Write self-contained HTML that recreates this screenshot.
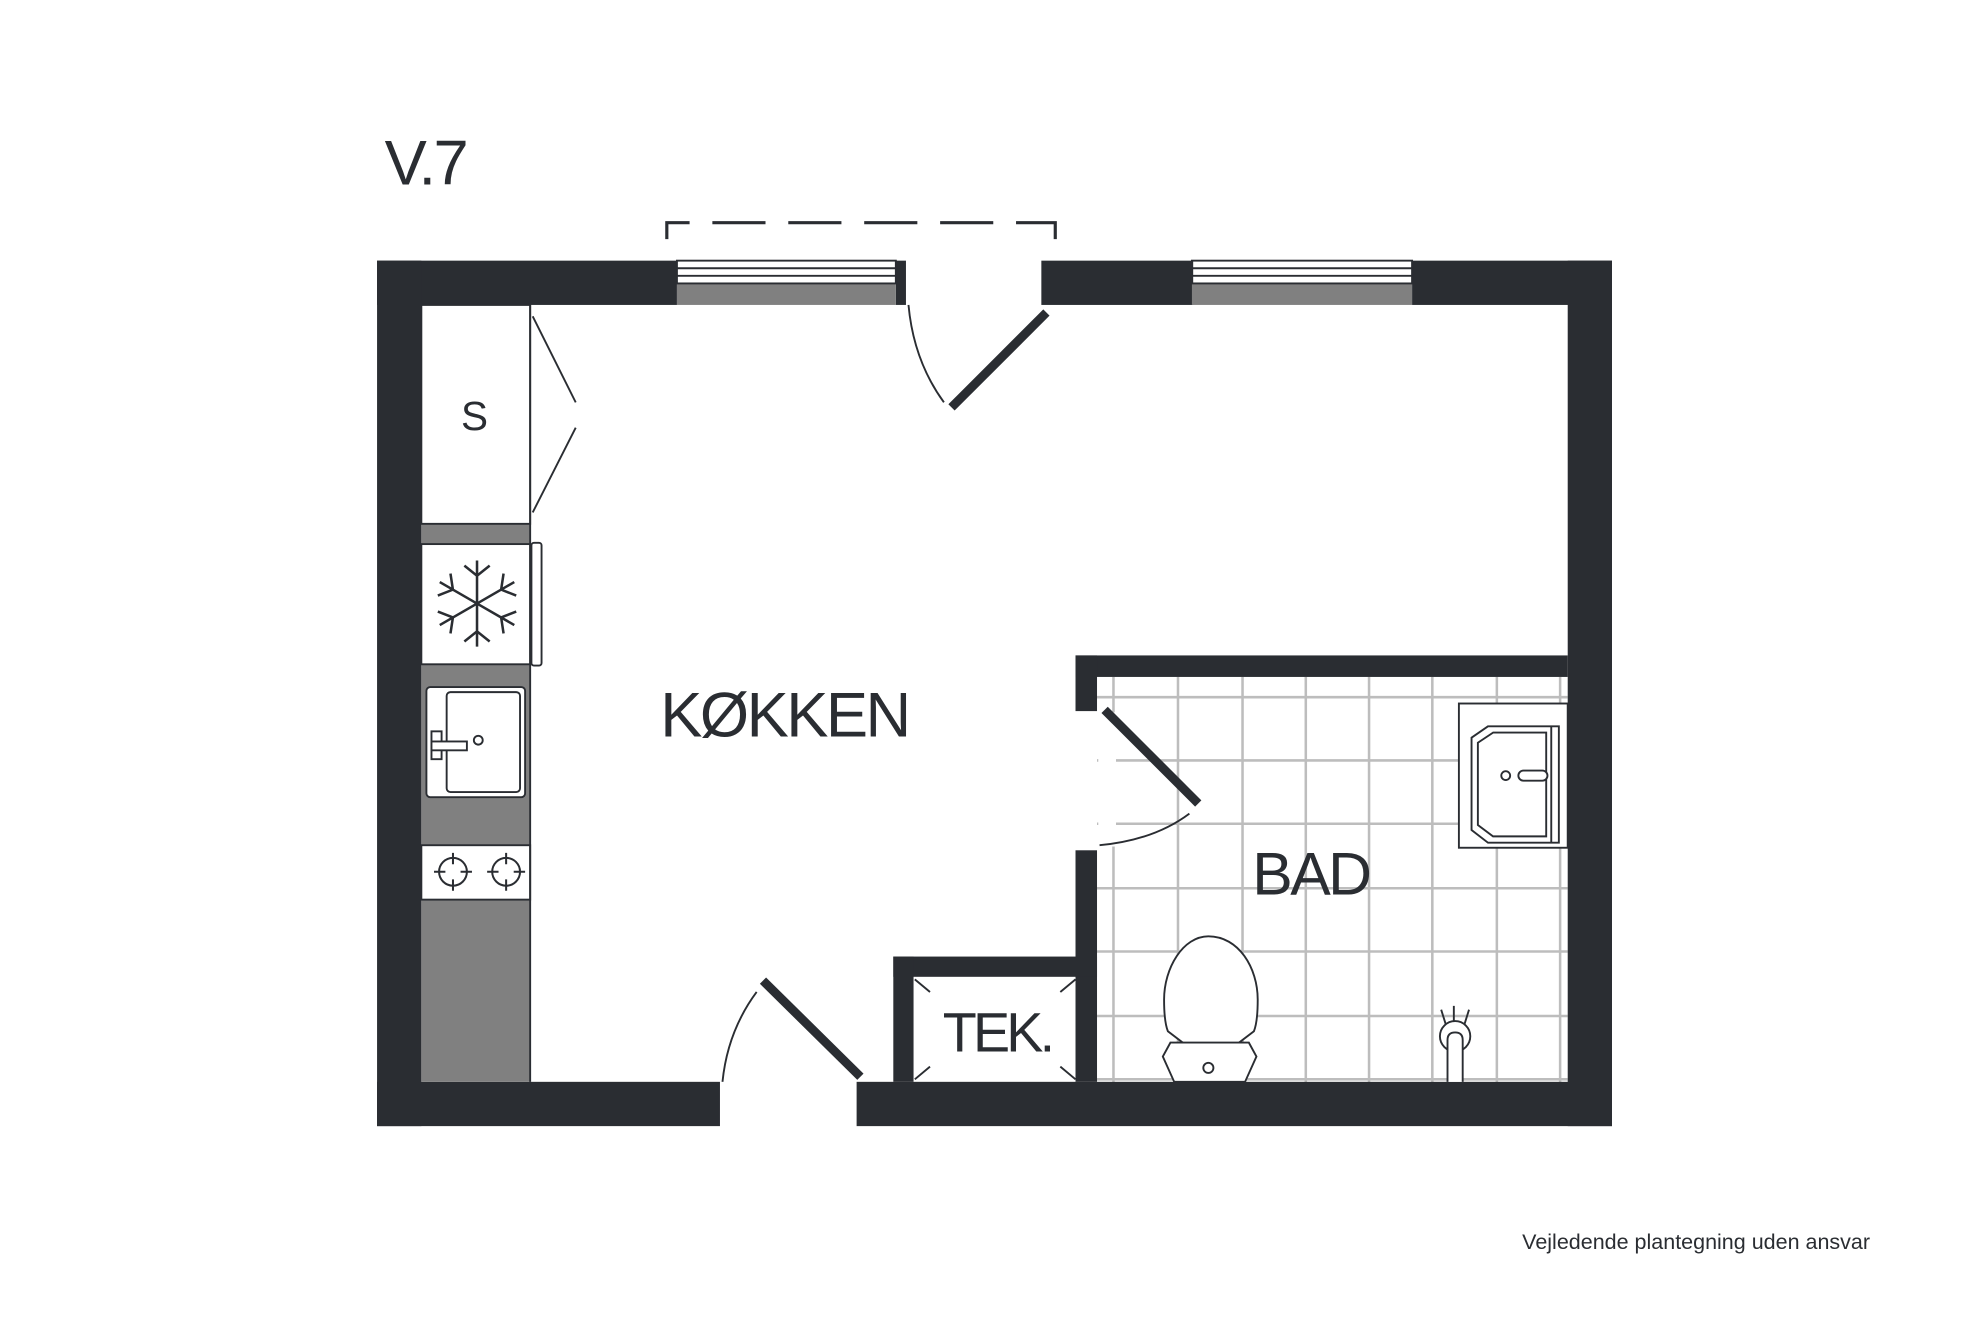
<!DOCTYPE html>
<html><head><meta charset="utf-8"><style>
html,body{margin:0;padding:0;background:#fff;}
svg{display:block;}
text{font-family:"Liberation Sans","DejaVu Sans",sans-serif;fill:#2a2d32;}
</style></head><body>
<svg width="1984" height="1323" viewBox="0 0 1568 1045.6" xmlns="http://www.w3.org/2000/svg">
<rect width="1568" height="1046" fill="#fff"/>
<text x="304" y="146" font-size="50" letter-spacing="-2">V.7</text>
<g stroke="#2a2d32" stroke-width="2.5" fill="none">
<path d="M527 189 V176 H545"/>
<path d="M563 176 H605 M623 176 H665 M683 176 H725 M743 176 H785 M803 176 H834 V189"/>
</g>
<g stroke="#bdbdbd" stroke-width="2">
<path d="M880 535V855 M931 535V855 M982 535V855 M1032 535V855 M1082 535V855 M1132 535V855 M1183 535V855 M1233 535V855"/>
<path d="M867 551H1239 M867 601H1239 M867 651H1239 M867 702H1239 M867 752H1239 M867 803H1239 M867 853H1239"/>
</g>
<rect x="868" y="563" width="14" height="106" fill="#fff"/>
<g fill="#2a2d32">
<rect x="298" y="206" width="237" height="35"/>
<rect x="708" y="206" width="8" height="35"/>
<rect x="823" y="206" width="120" height="35"/>
<rect x="1116" y="206" width="158" height="35"/>
<rect x="298" y="206" width="35" height="684"/>
<rect x="1239" y="206" width="35" height="684"/>
<rect x="298" y="855" width="271" height="35"/>
<rect x="677" y="855" width="597" height="35"/>
<rect x="850" y="518" width="389" height="17"/>
<rect x="850" y="518" width="17" height="44"/>
<rect x="850" y="672" width="17" height="183"/>
<rect x="706" y="756" width="161" height="16"/>
<rect x="706" y="756" width="16" height="99"/>
</g>
<g>
<rect x="535" y="224" width="173" height="17" fill="#808080"/>
<rect x="942" y="224" width="174" height="17" fill="#808080"/>
<g stroke="#2a2d32" stroke-width="1.5" fill="none">
<rect x="535" y="206" width="173" height="18"/>
<path d="M535 212H708 M535 218H708"/>
<rect x="942" y="206" width="174" height="18"/>
<path d="M942 212H1116 M942 218H1116"/>
</g>
</g>
<rect x="333" y="241" width="86" height="614" fill="#808080"/>
<g stroke="#2a2d32" stroke-width="1.5" fill="#fff">
<rect x="333" y="241" width="86" height="173"/>
<rect x="333" y="430" width="86" height="95"/>
<rect x="333" y="668" width="86" height="43"/>
<rect x="337" y="543" width="78" height="87" rx="3"/>
<rect x="353" y="547" width="58" height="79" rx="3"/>
<rect x="341" y="578" width="8" height="22"/>
<rect x="341" y="586" width="28" height="7"/>
<circle cx="378" cy="585" r="3.5"/>
<rect x="420" y="429" width="8" height="97" rx="2"/>
</g>
<line x1="419" y1="241" x2="419" y2="855" stroke="#2a2d32" stroke-width="1.5"/>
<text x="375" y="340" font-size="32" text-anchor="middle">S</text>
<g stroke="#2a2d32" stroke-width="2" fill="none" transform="translate(377,477)">
<g id="arm"><path d="M0 0V-34 M0 -22L-10 -30 M0 -22L10 -30"/></g>
<use href="#arm" transform="rotate(60)"/><use href="#arm" transform="rotate(120)"/>
<use href="#arm" transform="rotate(180)"/><use href="#arm" transform="rotate(240)"/><use href="#arm" transform="rotate(300)"/>
</g>
<g stroke="#2a2d32" stroke-width="1.6" fill="none">
<circle cx="358" cy="689" r="11"/><path d="M343 689H352 M364 689H373 M358 674V683 M358 695V704"/>
<circle cx="400" cy="689" r="11"/><path d="M385 689H394 M406 689H415 M400 674V683 M400 695V704"/>
</g>
<g stroke="#2a2d32" stroke-width="1.5" fill="none">
<path d="M421 250L455 318 M455 338L421 405"/>
<path d="M718 241 Q722 285 746 318"/>
<path d="M598 784 Q575 815 571 855"/>
<path d="M869 668 Q912 664 940 643"/>
</g>
<g stroke="#2a2d32" stroke-width="7" fill="none">
<line x1="827" y1="247" x2="752" y2="322"/>
<line x1="603" y1="775" x2="680" y2="851"/>
<line x1="873" y1="561" x2="947" y2="635"/>
</g>
<g stroke="#2a2d32" stroke-width="1.5" fill="none">
<path d="M723 774L735 784 M850 774L838 784 M723 853L735 843 M850 853L838 843"/>
</g>
<text x="788" y="831" font-size="44" text-anchor="middle" letter-spacing="-3">TEK.</text>
<g stroke="#2a2d32" stroke-width="1.5" fill="#fff">
<rect x="1153" y="556" width="86" height="114"/>
<path d="M1176 574 L1163 583 V656 L1176 666 H1232 V574 Z"/>
<path d="M1180 579 L1168 587 V652 L1180 661 H1222 V579 Z"/>
<line x1="1226" y1="574" x2="1226" y2="666"/>
<circle cx="1190" cy="613" r="3.5"/>
<rect x="1200" y="609" width="23" height="8" rx="4"/>
</g>
<g stroke="#2a2d32" stroke-width="1.5" fill="#fff">
<path d="M955 740 C935 740 920 765 920 790 C920 800 921 810 923 815 L940 828 H974 L991 815 C993 810 994 800 994 790 C994 765 979 740 955 740 Z"/>
<path d="M925 824 L919 835 L928 855 H984 L993 835 L987 824 Z"/>
<circle cx="955" cy="844" r="4"/>
</g>
<g stroke="#2a2d32" stroke-width="1.5" fill="#fff">
<path d="M1139 798L1144 814 M1149 795V811 M1161 798L1156 814"/>
<circle cx="1150" cy="819" r="12"/>
<path d="M1144 855 V822 Q1144 816 1150 816 Q1156 816 1156 822 V855"/>
</g>
<text x="620" y="582" font-size="50" text-anchor="middle" letter-spacing="-2">KØKKEN</text>
<text x="1036" y="707" font-size="48" text-anchor="middle" letter-spacing="-2">BAD</text>
<text x="1203" y="987" font-size="17">Vejledende plantegning uden ansvar</text>
</svg>
</body></html>
